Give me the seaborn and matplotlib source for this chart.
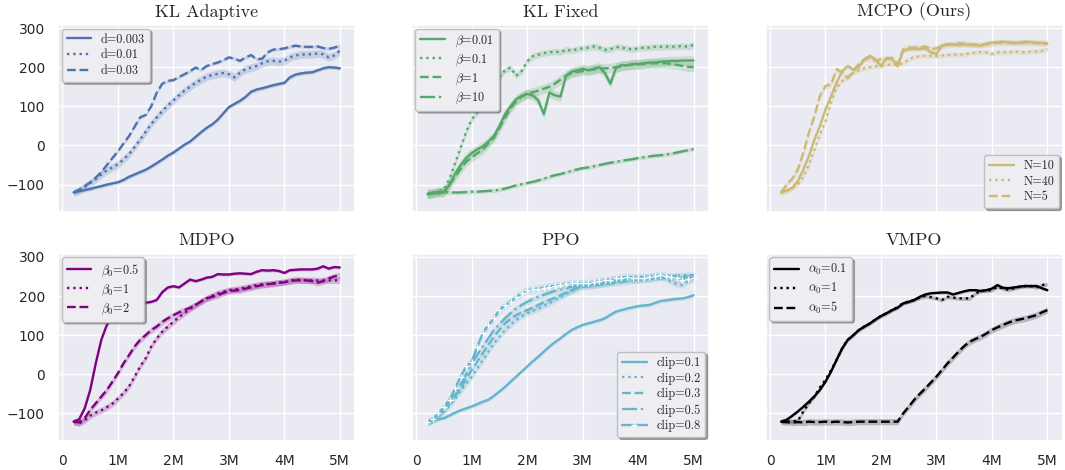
import matplotlib
matplotlib.use("Agg")
import matplotlib.pyplot as plt
import seaborn as sns
import numpy as np

sns.set_theme(style="darkgrid")
plt.rcParams['mathtext.fontset'] = 'cm'

# ===== data: shared x grid (million steps) =====
steps = [0.2, 0.3, 0.4, 0.5, 0.6, 0.7, 0.8, 0.9, 1.0,
         1.1, 1.2, 1.3, 1.4, 1.5, 1.6, 1.7, 1.8, 1.9, 2.0,
         2.1, 2.2, 2.3, 2.4, 2.5, 2.6, 2.7, 2.8, 2.9, 3.0,
         3.1, 3.2, 3.3, 3.4, 3.5, 3.6, 3.7, 3.8, 3.9, 4.0,
         4.1, 4.2, 4.3, 4.4, 4.5, 4.6, 4.7, 4.8, 4.9, 5.0]

# KL Adaptive
kla_d0003 = [-120, -117, -114, -111, -107, -104, -100, -97, -94,
             -88, -80, -74, -68, -62, -54, -45, -36, -26, -18,
             -8, 2, 10, 22, 34, 45, 54, 66, 82, 98,
             106, 114, 124, 137, 143, 146, 150, 154, 157, 160,
             174, 181, 184, 186, 187, 192, 197, 200, 199, 197]
kla_d001 = [-120, -115, -106, -96, -86, -74, -64, -56, -48,
            -36, -22, -4, 15, 35, 55, 72, 88, 102, 115,
            128, 140, 150, 160, 168, 176, 180, 183, 185, 182,
            174, 186, 195, 199, 203, 210, 215, 216, 214, 216,
            225, 230, 232, 233, 233, 235, 233, 225, 230, 242]
kla_d003 = [-120, -113, -104, -94, -82, -68, -50, -32, -15,
            5, 24, 48, 72, 78, 100, 135, 158, 165, 167,
            175, 182, 190, 199, 193, 203, 208, 212, 218, 225,
            222, 216, 225, 231, 220, 222, 238, 245, 246, 248,
            252, 255, 253, 252, 252, 253, 249, 247, 250, 255]

# KL Fixed
klf_b001 = [-124, -122, -118, -120, -100, -72, -50, -32, -19,
            -10, -2, 10, 24, 50, 80, 100, 118, 126, 132,
            128, 115, 80, 135, 128, 125, 178, 188, 192, 196,
            192, 196, 200, 185, 158, 198, 205, 205, 208, 208,
            210, 212, 212, 214, 215, 216, 216, 217, 217, 217]
klf_b01 = [-125, -122, -118, -112, -85, -45, -5, 35, 67,
           85, 97, 115, 145, 175, 192, 199, 178, 190, 215,
           228, 232, 236, 238, 240, 238, 245, 242, 246, 248,
           250, 253, 250, 244, 246, 252, 250, 248, 245, 248,
           250, 250, 252, 252, 253, 252, 253, 254, 252, 257]
klf_b1 = [-124, -122, -120, -118, -100, -80, -60, -42, -30,
          -20, -10, 5, 20, 45, 70, 95, 112, 125, 132,
          136, 140, 145, 150, 158, 168, 178, 185, 188, 190,
          192, 194, 196, 197, 198, 200, 202, 205, 206, 207,
          208, 210, 210, 210, 210, 208, 206, 203, 201, 200]
klf_b10 = [-124, -120, -122, -119, -120, -120, -120, -119, -118,
           -118, -117, -116, -115, -113, -110, -106, -102, -99, -96,
           -93, -89, -85, -80, -76, -73, -69, -65, -61, -58,
           -56, -53, -50, -47, -44, -42, -39, -37, -35, -32,
           -30, -28, -26, -25, -23, -21, -18, -15, -12, -9]

# MCPO (Ours)
mcpo_n10 = [-120, -115, -108, -91, -62, -27, 15, 50, 92,
            126, 161, 190, 203, 194, 200, 220, 229, 220, 203,
            224, 220, 203, 242, 246, 247, 247, 248, 238, 234,
            255, 259, 258, 256, 258, 257, 256, 255, 260, 263,
            264, 265, 263, 261, 263, 265, 264, 261, 262, 260]
mcpo_n40 = [-120, -116, -110, -100, -80, -50, -10, 28, 62,
            110, 148, 165, 175, 185, 192, 198, 200, 202, 203,
            205, 208, 206, 210, 220, 226, 228, 229, 229, 228,
            230, 231, 232, 233, 232, 236, 237, 239, 238, 234,
            238, 238, 238, 240, 239, 238, 240, 240, 242, 246]
mcpo_n5 = [-120, -100, -85, -62, -19, 32, 75, 127, 152,
           156, 195, 186, 172, 191, 208, 220, 224, 216, 220,
           220, 224, 207, 246, 250, 250, 250, 253, 246, 248,
           255, 257, 259, 261, 260, 259, 258, 257, 259, 260,
           262, 263, 263, 263, 262, 263, 263, 263, 262, 261]

# MDPO
mdpo_b05 = [-121, -115, -87, -40, 28, 88, 126, 147, 162,
            164, 156, 164, 173, 183, 185, 190, 210, 222, 225,
            222, 232, 242, 238, 242, 247, 249, 256, 255, 255,
            257, 258, 257, 256, 262, 266, 265, 266, 264, 259,
            266, 267, 268, 268, 268, 270, 276, 270, 274, 273]
mdpo_b1 = [-121, -125, -118, -106, -98, -92, -84, -75, -62,
           -48, -31, -6, 20, 41, 71, 92, 109, 122, 134,
           146, 156, 167, 177, 186, 194, 201, 207, 211, 215,
           217, 219, 222, 225, 228, 230, 231, 232, 234, 236,
           239, 242, 241, 240, 240, 240, 240, 240, 240, 240]
mdpo_b2 = [-121, -123, -112, -91, -74, -57, -40, -19, 3,
           28, 49, 71, 88, 100, 113, 122, 134, 143, 151,
           158, 164, 170, 177, 186, 194, 198, 202, 208, 213,
           214, 215, 219, 222, 225, 228, 230, 232, 234, 235,
           238, 240, 240, 240, 238, 234, 238, 245, 250, 253]

# PPO
ppo_c01 = [-123, -119, -115, -112, -105, -98, -92, -87, -82,
           -76, -70, -65, -55, -44, -32, -19, -6, 7, 20,
           33, 45, 58, 71, 82, 92, 103, 113, 120, 126,
           130, 134, 138, 143, 152, 160, 164, 168, 171, 174,
           176, 177, 182, 187, 189, 191, 193, 194, 197, 202]
ppo_c02 = [-123, -118, -108, -95, -80, -62, -42, -24, -6,
           15, 37, 58, 79, 96, 113, 126, 139, 148, 156,
           162, 168, 175, 181, 190, 198, 205, 211, 220, 228,
           228, 228, 230, 232, 236, 240, 241, 242, 240, 240,
           242, 242, 245, 249, 245, 236, 230, 228, 238, 249]
ppo_c03 = [-123, -117, -106, -92, -75, -55, -35, -12, 11,
           33, 54, 75, 96, 114, 130, 141, 151, 158, 164,
           170, 177, 184, 190, 196, 202, 208, 215, 220, 224,
           225, 227, 229, 231, 232, 234, 236, 238, 240, 242,
           244, 245, 247, 248, 249, 248, 245, 247, 250, 248]
ppo_c05 = [-123, -116, -104, -88, -70, -48, -26, 0, 28,
           50, 71, 92, 113, 128, 143, 156, 168, 177, 185,
           192, 198, 203, 208, 213, 217, 220, 224, 226, 228,
           230, 231, 233, 234, 236, 238, 241, 244, 247, 249,
           248, 249, 250, 250, 249, 250, 252, 253, 254, 253]
ppo_c08 = [-123, -114, -100, -84, -65, -36, -6, 20, 32,
           71, 105, 126, 143, 164, 177, 185, 198, 207, 215,
           217, 219, 221, 224, 226, 228, 230, 232, 232, 232,
           233, 235, 238, 240, 242, 245, 247, 249, 247, 245,
           247, 249, 251, 253, 251, 249, 245, 242, 244, 245]

# VMPO
vmpo_a01 = [-121, -116, -106, -95, -83, -70, -56, -40, -19,
            7, 37, 66, 88, 100, 113, 122, 130, 140, 149,
            156, 164, 170, 181, 185, 190, 198, 204, 207, 208,
            209, 209, 204, 208, 212, 215, 215, 213, 215, 219,
            228, 221, 220, 222, 224, 226, 225, 226, 220, 215]
vmpo_a1 = [-121, -121, -120, -119, -95, -74, -57, -33, -14,
           10, 37, 66, 88, 100, 113, 122, 130, 140, 149,
           156, 164, 172, 182, 186, 190, 196, 200, 197, 194,
           190, 198, 196, 194, 194, 194, 206, 213, 214, 215,
           224, 219, 216, 220, 224, 225, 226, 222, 228, 230]
vmpo_a5 = [-121, -122, -123, -122, -123, -121, -122, -122, -121,
           -122, -121, -122, -123, -122, -121, -121, -121, -121, -121,
           -121, -121, -121, -100, -83, -65, -50, -36, -21, -6,
           11, 28, 43, 58, 72, 83, 90, 96, 104, 113,
           120, 126, 132, 137, 140, 143, 147, 151, 158, 164]

panels = [
    ('KL Adaptive', '#4C72B0', 'upper left',
     [('d=0.003', kla_d0003, 5), ('d=0.01', kla_d001, 10), ('d=0.03', kla_d003, 4)]),
    ('KL Fixed', '#55A868', 'upper left',
     [(r'$\beta$=0.01', klf_b001, 12), (r'$\beta$=0.1', klf_b01, 8),
      (r'$\beta$=1', klf_b1, 12), (r'$\beta$=10', klf_b10, 5)]),
    ('MCPO (Ours)', '#CCB974', 'lower right',
     [('N=10', mcpo_n10, 6), ('N=40', mcpo_n40, 6), ('N=5', mcpo_n5, 8)]),
    ('MDPO', '#800080', 'upper left',
     [(r'$\beta_0$=0.5', mdpo_b05, 4), (r'$\beta_0$=1', mdpo_b1, 8), (r'$\beta_0$=2', mdpo_b2, 8)]),
    ('PPO', '#64B5CD', 'lower right',
     [('clip=0.1', ppo_c01, 5), ('clip=0.2', ppo_c02, 8), ('clip=0.3', ppo_c03, 8),
      ('clip=0.5', ppo_c05, 8), ('clip=0.8', ppo_c08, 10)]),
    ('VMPO', 'black', 'upper left',
     [(r'$\alpha_0$=0.1', vmpo_a01, 4), (r'$\alpha_0$=1', vmpo_a1, 5), (r'$\alpha_0$=5', vmpo_a5, 8)]),
]

styles = [dict(linestyle='-'), dict(linestyle=':'), dict(linestyle='--'),
          dict(linestyle='-.'), dict(linestyle='-', marker='+', markersize=5, markeredgewidth=1)]

fig, axes = plt.subplots(2, 3, figsize=(10.65, 4.7), dpi=100, sharex=True, sharey=True)
fig.subplots_adjust(left=0.0545, right=0.998, bottom=0.062, top=0.947, wspace=0.19, hspace=0.223)

x = np.array(steps)
for ax, (title, color, loc, curves) in zip(axes.flat, panels):
    for i, (label, vals, band) in enumerate(curves):
        y = np.array(vals, dtype=float)
        ax.fill_between(x, y - band, y + band, color=color, alpha=0.22, linewidth=0)
        sns.lineplot(x=x, y=y, ax=ax, color=color, linewidth=1.7, label=label, **styles[i])
    ax.set_title(title, family='cmr10', fontsize=13)
    ax.set_xlabel('')
    ax.set_ylabel('')
    leg = ax.legend(loc=loc, prop={'family': 'cmr10', 'size': 8.8},
                    shadow={'ox': 1.5, 'oy': -1.5, 'color': '0.4', 'alpha': 0.55},
                    fancybox=True, framealpha=1, handlelength=2.0,
                    labelspacing=0.3, borderaxespad=0.3)
    leg.get_frame().set_facecolor('#EEEEF2')
    leg.get_frame().set_edgecolor('0.75')

ax0 = axes[0, 0]
ax0.set_xlim(-0.08, 5.28)
ax0.set_ylim(-170, 308)
ax0.set_xticks([0, 1, 2, 3, 4, 5])
ax0.set_xticklabels(['0', '1M', '2M', '3M', '4M', '5M'])
ax0.set_yticks([-100, 0, 100, 200, 300])
for ax in axes.flat:
    ax.tick_params(labelsize=10)

fig.savefig('out.png', dpi=100)
